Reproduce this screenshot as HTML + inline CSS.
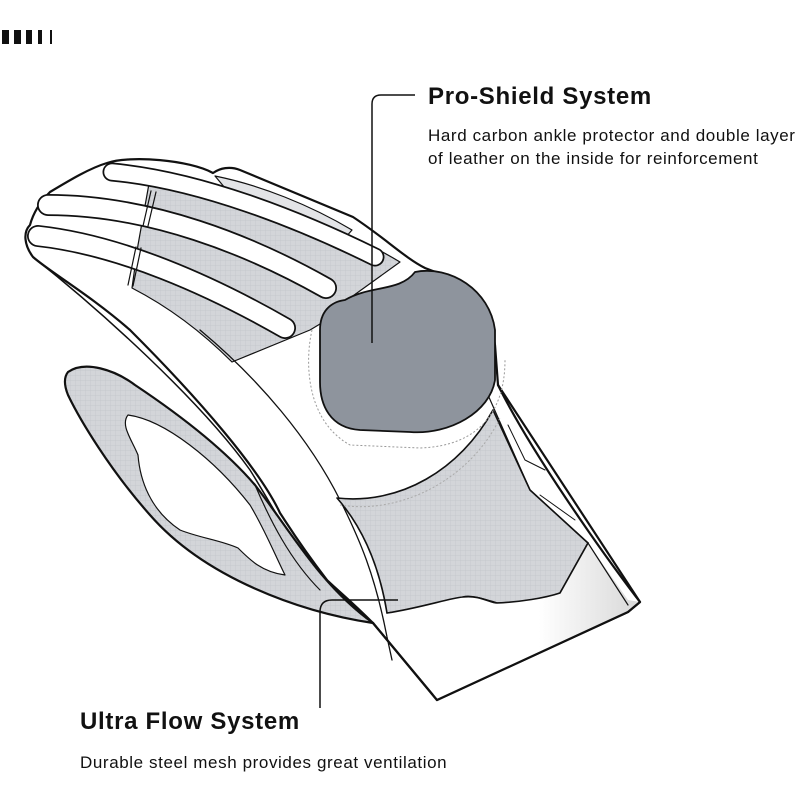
<!DOCTYPE html>
<html><head><meta charset="utf-8"><style>
html,body{margin:0;padding:0;background:#fff;width:800px;height:800px;overflow:hidden}
svg{display:block}
text{font-family:"Liberation Sans",sans-serif;fill:#111}
</style></head><body>
<svg width="800" height="800" viewBox="0 0 800 800" xmlns="http://www.w3.org/2000/svg">
<defs>
<pattern id="g" width="5" height="5" patternUnits="userSpaceOnUse">
<rect width="5" height="5" fill="#d3d5d9"/>
<path d="M0 0H5M0 0V5" stroke="#c2c5ca" stroke-width="0.7"/>
</pattern>
<linearGradient id="cg" x1="0" y1="0" x2="1" y2="0">
<stop offset="0.6" stop-color="#fff"/><stop offset="1" stop-color="#d8d8d8"/>
</linearGradient>
</defs>
<rect x="2" y="30" width="7" height="14" fill="#111"/>
<rect x="14" y="30" width="7" height="14" fill="#111"/>
<rect x="26" y="30" width="6" height="14" fill="#111"/>
<rect x="38" y="30" width="4" height="14" fill="#111"/>
<rect x="50" y="30" width="2" height="14" fill="#111"/>

<g stroke="#111" stroke-linejoin="round" stroke-linecap="round">
<!-- hand silhouette -->
<path d="M107,163 C130,155 190,160 213,173 C220,168 230,166 240,170 L353,217 C385,238 405,258 425,268 C465,282 490,310 495,345 L498,385 C530,450 600,550 640,602 L628,612 L437,700 L373,623 C350,600 335,588 327,580 C300,545 288,525 280,513 C260,470 200,400 130,330 C90,295 50,272 33,257 C24,245 23,232 30,225 C34,210 42,200 50,192 C70,180 90,168 107,163Z" fill="#fff" stroke-width="2.2"/>
<!-- finger mesh -->
<path d="M150,178 C230,188 330,220 400,262 L350,298 L330,318 L310,330 L232,362 C200,330 165,305 132,288 L138,245 Z" fill="url(#g)" stroke-width="1.2"/>
<path d="M215,176 C260,185 310,205 352,230 L345,238 C310,222 260,200 225,188Z" fill="#e3e4e7" stroke-width="1.2"/>
<!-- tabs -->
<path d="M112,172 C200,180 300,220 375,257" fill="none" stroke-width="19"/>
<path d="M112,172 C200,180 300,220 375,257" fill="none" stroke="#fff" stroke-width="15.5"/>
<path d="M48,205 C150,205 250,245 326,288" fill="none" stroke-width="22"/>
<path d="M48,205 C150,205 250,245 326,288" fill="none" stroke="#fff" stroke-width="18.5"/>
<path d="M38,236 C120,245 210,285 285,328" fill="none" stroke-width="22"/>
<path d="M38,236 C120,245 210,285 285,328" fill="none" stroke="#fff" stroke-width="18.5"/>
<path d="M156,192 L148,226 M151,191 L143,226 M141,248 L133,286 M136,247 L128,285" stroke-width="1.2" fill="none"/>
<!-- band lines -->
<path d="M33,257 C100,310 200,400 250,470 C275,510 300,560 327,580 C345,600 360,612 373,623" fill="none" stroke-width="1.5"/>
<path d="M200,330 C260,380 310,440 340,500 C360,540 375,575 387,637 L392,660" fill="none" stroke-width="1.3"/>
<!-- lower mesh -->
<path d="M337,498 C400,505 460,470 493,410 L530,490 L588,543 L560,593 C530,605 510,603 497,603 C480,598 470,595 463,597 C430,605 400,612 387,613 C380,570 365,530 337,498Z" fill="url(#g)" stroke-width="1.6"/>
<!-- cuff -->
<path d="M387,613 C420,608 450,598 463,597 C480,595 490,603 497,603 C520,602 545,598 560,593 L588,543 L628,600 L640,602 L628,612 L437,700 Z" fill="url(#cg)" stroke="none"/>
<path d="M387,613 C420,608 450,598 463,597 C480,595 490,603 497,603 C520,602 545,598 560,593 L588,543" fill="none" stroke-width="1.6"/>
<path d="M488,395 L530,490 L588,543 L628,605" fill="none" stroke-width="1.2"/>
<path d="M508,425 L525,460 L545,470 M540,495 L575,520" fill="none" stroke-width="1"/>
<path d="M373,623 L437,700 L628,612 L640,602 L498,385" fill="none" stroke-width="2.2"/>
<!-- thumb -->
<path d="M68,372 C85,360 115,370 135,385 C180,415 225,450 255,485 C290,530 320,585 373,623 C300,612 205,578 150,515 C110,470 80,420 68,395 C64,385 64,377 68,372Z" fill="url(#g)" stroke-width="2.2"/>
<path d="M128,415 C165,420 215,460 250,505 C265,530 275,555 285,575 C262,572 250,560 238,548 C220,540 200,538 180,530 C150,510 140,480 138,455 C132,440 120,425 128,415Z" fill="#fff" stroke-width="1.2"/>
<path d="M255,485 C270,520 290,560 320,590" fill="none" stroke-width="1.2"/>
<!-- pad -->
<path d="M345,300 C370,285 400,292 415,272 C450,265 490,290 495,330 L495,380 C490,412 450,435 410,432 L360,430 C330,428 320,405 320,382 L320,330 C320,312 330,302 345,300Z" fill="#8e949d" stroke-width="1.8"/>
</g>
<path d="M312,330 C305,360 305,420 350,445 L420,448 C480,446 505,410 505,360" fill="none" stroke="#999" stroke-width="1" stroke-dasharray="2,2"/>
<path d="M340,505 C400,515 470,480 500,418" fill="none" stroke="#aaa" stroke-width="1" stroke-dasharray="2,2"/>

<path d="M372,343 V104 Q372,95 381,95 H415" fill="none" stroke="#111" stroke-width="1.5"/>
<path d="M320,708 V612 Q320,600 332,600 H398" fill="none" stroke="#111" stroke-width="1.5"/>

<text x="428" y="104" font-size="24" font-weight="bold" letter-spacing="0.7">Pro-Shield System</text>
<text x="428" y="141" font-size="17" letter-spacing="0.6">Hard carbon ankle protector and double layer</text>
<text x="428" y="164" font-size="17" letter-spacing="0.6">of leather on the inside for reinforcement</text>
<text x="80" y="729" font-size="24" font-weight="bold" letter-spacing="0.7">Ultra Flow System</text>
<text x="80" y="768" font-size="17" letter-spacing="0.6">Durable steel mesh provides great ventilation</text>
</svg>
</body></html>
